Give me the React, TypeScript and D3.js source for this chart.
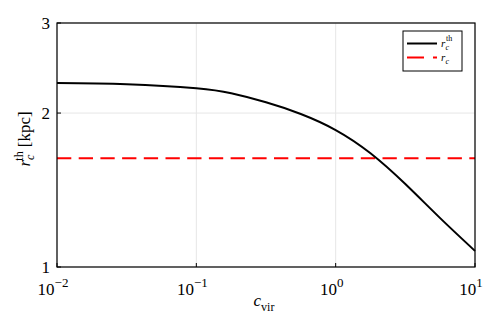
import React from "react";
import * as d3 from "d3";

const cvir = [0.01, 0.0316, 0.1, 0.178, 0.316, 0.562, 1.0, 1.778, 3.162, 5.623, 10.0];
const rcTh = [2.290, 2.278, 2.236, 2.186, 2.100, 1.992, 1.853, 1.669, 1.453, 1.246, 1.075];
const rcConst = 1.631;
const xTicks = [0.01, 0.1, 1, 10];
const xTickExp = ["−2", "−1", "0", "1"];
const yTicks = [1, 2, 3];

const W = 498, H = 332;
const L = 57, R = 475, T = 23, B = 267;
const serif = "'Liberation Serif', 'DejaVu Serif', serif";

export default function App() {
  const x = d3.scaleLog().domain([0.01, 10]).range([L, R]);
  const y = d3.scaleLog().domain([1, 3]).range([B, T]);
  const pts = cvir.map((c, i) => [c, rcTh[i]] as [number, number]);
  const line = d3.line<[number, number]>().x(d => x(d[0])).y(d => y(d[1])).curve(d3.curveNatural);

  return (
    <svg width={W} height={H} style={{ position: "absolute", left: 0, top: 0, background: "#fff" }}>
      {xTicks.map(t => (
        <line key={"gx" + t} x1={x(t)} x2={x(t)} y1={T} y2={B} stroke="#e6e6e6" strokeWidth={1} />
      ))}
      {yTicks.map(t => (
        <line key={"gy" + t} x1={L} x2={R} y1={y(t)} y2={y(t)} stroke="#e6e6e6" strokeWidth={1} />
      ))}
      <line x1={L} x2={R} y1={y(rcConst)} y2={y(rcConst)} stroke="#ff0000" strokeWidth={2} strokeDasharray="14.3,7.4" />
      <path d={line(pts) || ""} fill="none" stroke="#000" strokeWidth={2} />
      <rect x={L} y={T} width={R - L} height={B - T} fill="none" stroke="#000" strokeWidth={1.2} />
      {xTicks.map(t => (
        <line key={"tx" + t} x1={x(t)} x2={x(t)} y1={B} y2={B - 4} stroke="#000" strokeWidth={1} />
      ))}
      {yTicks.map(t => (
        <line key={"ty" + t} x1={L} x2={L + 4} y1={y(t)} y2={y(t)} stroke="#000" strokeWidth={1} />
      ))}
      {xTicks.map((t, i) => (
        <text key={"lx" + t} x={x(t) - 4} y={295} fontFamily={serif} fontSize={17} textAnchor="middle">
          10<tspan dy={-8} fontSize={13}>{xTickExp[i]}</tspan>
        </text>
      ))}
      {yTicks.map(t => (
        <text key={"ly" + t} x={50} y={y(t) + 6} fontFamily={serif} fontSize={17} textAnchor="end">{t}</text>
      ))}
      <text x={264} y={306} fontFamily={serif} fontSize={17} textAnchor="middle">
        <tspan fontStyle="italic">c</tspan><tspan dy={5} fontSize={12}>vir</tspan>
      </text>
      <text transform={`translate(30,139) rotate(-90)`} fontFamily={serif} fontSize={17} textAnchor="middle">
        <tspan fontStyle="italic">r</tspan><tspan dy={4} fontSize={12} fontStyle="italic">c</tspan><tspan dx={-6} dy={-11} fontSize={12}>th</tspan><tspan dy={7} dx={4}>[kpc]</tspan>
      </text>
      <rect x={403} y={31} width={59} height={40} fill="#fff" stroke="#000" strokeWidth={1} />
      <line x1={407} x2={437} y1={43.5} y2={43.5} stroke="#000" strokeWidth={2} />
      <line x1={407} x2={437} y1={57.5} y2={57.5} stroke="#ff0000" strokeWidth={2} strokeDasharray="17,9" />
      <text x={441} y={47} fontFamily={serif} fontSize={11} fontStyle="italic">r</text>
      <text x={445.5} y={50} fontFamily={serif} fontSize={8} fontStyle="italic">c</text>
      <text x={446} y={41} fontFamily={serif} fontSize={8}>th</text>
      <text x={441} y={61} fontFamily={serif} fontSize={11} fontStyle="italic">r</text>
      <text x={445.5} y={63.5} fontFamily={serif} fontSize={8} fontStyle="italic">c</text>
    </svg>
  );
}
